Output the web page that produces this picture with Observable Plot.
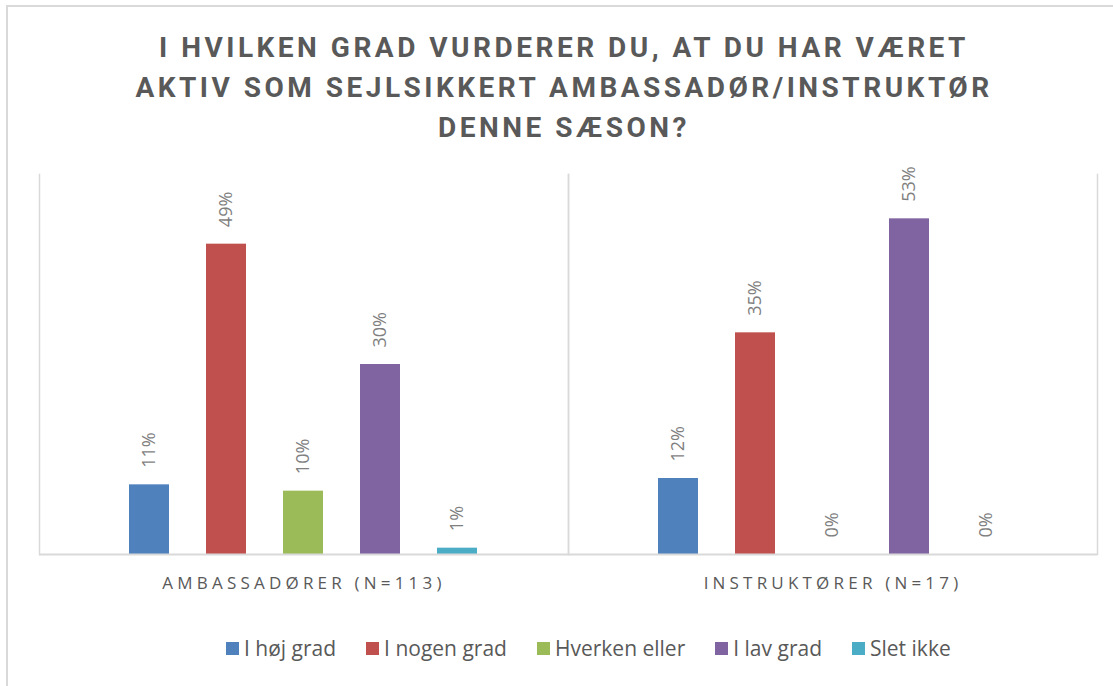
<!DOCTYPE html>
<html><head><meta charset="utf-8">
<script src="https://cdn.jsdelivr.net/npm/d3@7"></script>
<script src="https://cdn.jsdelivr.net/npm/@observablehq/plot@0.6"></script>
<style>
body{margin:0;background:#fff;}
#wrap{position:relative;width:1113px;height:686px;overflow:hidden;background:#fff;}
#border{position:absolute;left:6px;top:5px;width:1130px;height:720px;border:2px solid #d9d9d9;}
#title{position:absolute;left:2px;width:1124px;top:27.5px;text-align:center;font-family:Roboto;font-weight:bold;font-size:28px;line-height:40px;color:#595959;letter-spacing:3.5px;}
#chart{position:absolute;left:0;top:150px;}
#legend{position:absolute;left:226px;top:634px;display:flex;align-items:center;font-family:"Open Sans";font-size:21px;line-height:28px;color:#595959;white-space:nowrap;}
#legend .item{display:flex;align-items:center;margin-right:30px;}
#legend .sw{width:13px;height:13px;margin-right:5px;}
</style>
</head>
<body>
<div id="wrap">
  <div id="border"></div>
  <div id="title"></div>
  <div id="chart"></div>
  <div id="legend"></div>
</div>
<script>
const titleLines = ["I HVILKEN GRAD VURDERER DU, AT DU HAR VÆRET", "AKTIV SOM SEJLSIKKERT AMBASSADØR/INSTRUKTØR", "DENNE SÆSON?"];
const groups = ["AMBASSADØRER (N=113)", "INSTRUKTØRER (N=17)"];
const categories = ["I høj grad", "I nogen grad", "Hverken eller", "I lav grad", "Slet ikke"];
const colors = ["#4F81BD", "#C0504D", "#9BBB59", "#8064A2", "#4BACC6"];
const ambassadorValues = [11, 49, 10, 30, 1];
const instructorValues = [12, 35, 0, 53, 0];
const seriesValues = [ambassadorValues, instructorValues];

const data = groups.flatMap((g, i) => categories.map((c, j) => ({group: g, category: c, value: seriesValues[i][j]})));

document.getElementById("title").innerHTML = titleLines.map(t => `<div>${t}</div>`).join("");

const plot = Plot.plot({
  width: 1113, height: 454,
  marginLeft: 39, marginRight: 16, marginTop: 24, marginBottom: 50,
  style: {fontFamily: "Open Sans", background: "transparent", overflow: "visible"},
  fx: {domain: groups, padding: 0, label: null},
  x: {domain: categories, paddingInner: 0.48, paddingOuter: 1.175, axis: null},
  y: {domain: [0, 60], axis: null},
  color: {domain: categories, range: colors},
  marks: [
    Plot.frame({anchor: "left", stroke: "#d9d9d9", strokeWidth: 1.5}),
    Plot.frame({anchor: "right", stroke: "#d9d9d9", strokeWidth: 1.5}),
    Plot.barY(data, {fx: "group", x: "category", y: "value", fill: "category"}),
    Plot.ruleY([0], {stroke: "#d9d9d9", strokeWidth: 2}),
    Plot.text(data, {fx: "group", x: "category", y: "value", text: d => d.value + "%", rotate: -90, textAnchor: "start", dy: -17, fill: "#7f7f7f", fontSize: 18}),
    Plot.axisFx({anchor: "bottom", tickSize: 0, tickPadding: 22, fontSize: 17, color: "#595959", label: null})
  ]
});
document.getElementById("chart").appendChild(plot);
d3.select(plot).selectAll("text").filter(function() { return groups.includes(this.textContent); })
  .style("letter-spacing", "4.2px");

const legend = d3.select("#legend");
categories.forEach((c, i) => {
  const it = legend.append("div").attr("class", "item");
  it.append("div").attr("class", "sw").style("background", colors[i]);
  it.append("span").text(c);
});
</script>
</body></html>
